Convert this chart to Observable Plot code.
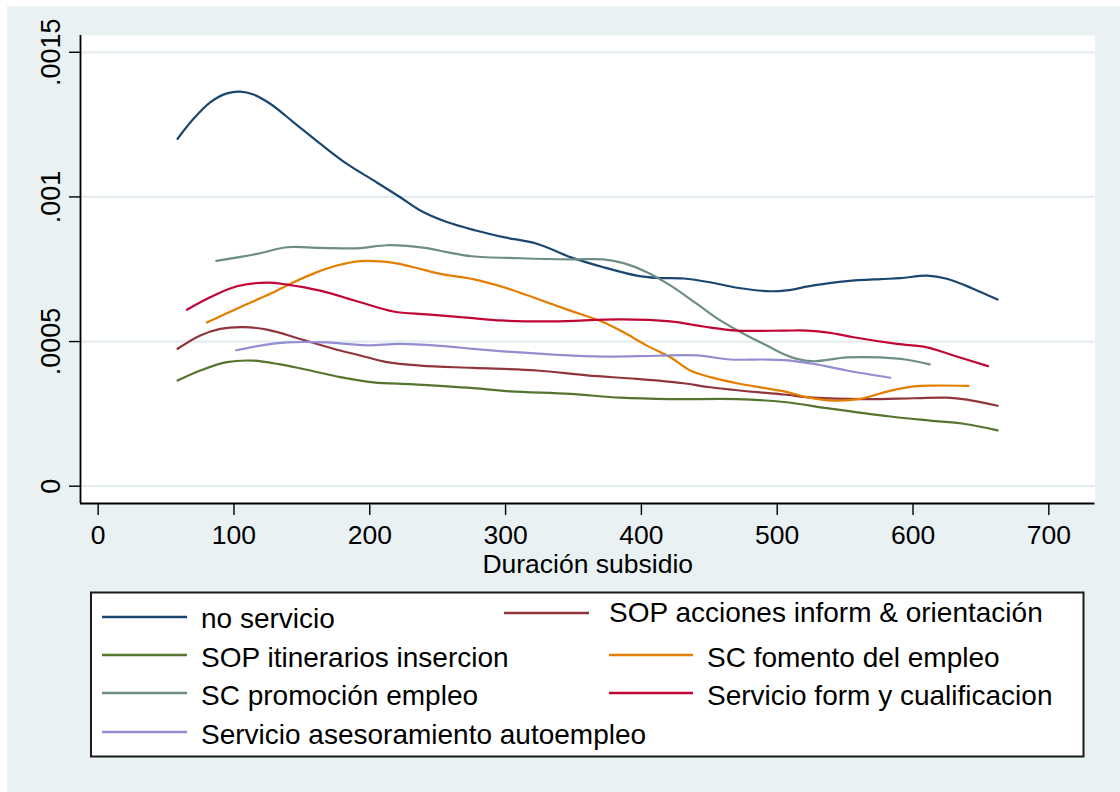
<!DOCTYPE html>
<html>
<head>
<meta charset="utf-8">
<script src="https://cdn.jsdelivr.net/npm/d3@7"></script>
<script src="https://cdn.jsdelivr.net/npm/@observablehq/plot@0.6"></script>
<style>
  html, body { margin: 0; padding: 0; background: #ffffff; }
  #root { position: relative; width: 1120px; height: 792px; background: #ffffff; overflow: hidden; font-family: "Liberation Sans", Arial, sans-serif; }
  #bg { position: absolute; left: 7px; top: 6px; right: 0; bottom: 0; background: #e9f1f3; }
  #plot, #legend { position: absolute; left: 0; top: 0; }
</style>
</head>
<body>
<div id="root">
  <div id="bg"></div>
  <div id="plot"></div>
  <div id="legend"></div>
</div>
<script>
// ---- data ----
const seriesNames = [
  "no servicio",
  "SOP acciones inform & orientación",
  "SOP itinerarios insercion",
  "SC fomento del empleo",
  "SC promoción empleo",
  "Servicio form y cualificacion",
  "Servicio asesoramiento autoempleo"
];
const seriesColors = ["#1a476f", "#90353b", "#55752f", "#e37e00", "#6e8e84", "#c10534", "#938dd2"];

const xTicks = [0, 100, 200, 300, 400, 500, 600, 700];
const yTicks = [0, 0.0005, 0.001, 0.0015];
const xDomain = [-13, 734];
const yDomain = [-0.0000598, 0.001558];
const xTitle = "Duración subsidio";

const noServicio = [[58.5,0.001201],[70.2,0.001270],[82.5,0.001327],[94.8,0.001358],[104.6,0.001364],[114.4,0.001354],[126.7,0.001322],[143.9,0.001258],[163.5,0.001184],[183.2,0.001114],[202.8,0.001057],[222.4,0.000999],[237.2,0.000953],[256.8,0.000913],[278,0.000884],[298.5,0.000861],[323.1,0.000838],[347.6,0.000792],[372.1,0.000757],[396.7,0.000728],[411.4,0.000720],[431,0.000718],[450.6,0.000705],[470.4,0.000686],[494.9,0.000674],[507,0.000677],[526.7,0.000694],[551.3,0.000709],[575.9,0.000716],[590.6,0.000719],[610.2,0.000728],[625,0.000717],[644.6,0.000682],[662.3,0.000645]];
const sopAcciones = [[58.5,0.000475],[75.2,0.000521],[89.9,0.000544],[107.1,0.000550],[124.3,0.000541],[148.8,0.000509],[173.3,0.000475],[193,0.000452],[212.6,0.000429],[237.2,0.000417],[276,0.000409],[323.1,0.000400],[359.9,0.000383],[396.7,0.000371],[431,0.000356],[450.7,0.000342],[485.1,0.000325],[505,0.000317],[526.7,0.000306],[563.6,0.000301],[600.4,0.000304],[625,0.000306],[639.7,0.000299],[662.3,0.000278]];
const sopItinerarios = [[58.5,0.000365],[75.2,0.000400],[94.8,0.000429],[114.4,0.000434],[134,0.000421],[156.2,0.000400],[178.3,0.000377],[202.8,0.000359],[232.2,0.000352],[276,0.000339],[303.4,0.000328],[347.6,0.000319],[384.4,0.000306],[421.3,0.000301],[470.4,0.000301],[505,0.000291],[539,0.000268],[583.2,0.000241],[612.6,0.000227],[637.2,0.000216],[662.3,0.000193]];
const scFomento = [[80,0.000566],[104.6,0.000619],[126.7,0.000665],[143.9,0.000705],[161.1,0.000740],[175.8,0.000763],[193,0.000778],[217.5,0.000772],[232.2,0.000757],[251.9,0.000734],[276,0.000716],[298.5,0.000688],[323.1,0.000648],[347.6,0.000607],[372.1,0.000567],[386.9,0.000532],[404.1,0.000486],[421.3,0.000446],[436,0.000400],[450.7,0.000377],[470.4,0.000356],[490,0.000340],[505,0.000328],[521.9,0.000308],[541.5,0.000296],[561.2,0.000302],[580.8,0.000327],[600.4,0.000345],[615.1,0.000348],[640.9,0.000347]];
const scPromocion = [[87,0.000779],[116.9,0.000803],[139,0.000826],[163.5,0.000824],[193,0.000823],[212.6,0.000833],[242.1,0.000823],[256.8,0.000809],[275,0.000795],[310.8,0.000788],[347.6,0.000784],[372.1,0.000784],[386.9,0.000771],[404.1,0.000740],[421.3,0.000694],[440.9,0.000630],[458.1,0.000573],[475.2,0.000527],[494.9,0.000480],[505,0.000456],[514.5,0.000440],[526.7,0.000432],[551.3,0.000445],[575.9,0.000445],[595.5,0.000437],[612.2,0.000421]];
const servicioForm = [[65.4,0.000610],[82.5,0.000653],[102.2,0.000691],[124.3,0.000704],[139,0.000697],[163.5,0.000676],[193,0.000636],[217.5,0.000604],[242.1,0.000594],[276,0.000581],[296.1,0.000573],[335.3,0.000570],[384.4,0.000577],[421.3,0.000570],[445.8,0.000552],[470.4,0.000538],[505,0.000538],[521.9,0.000538],[539,0.000530],[556.2,0.000515],[588.2,0.000492],[610.2,0.000480],[629.8,0.000452],[655.2,0.000415]];
const servicioAsesoramiento = [[101.7,0.000470],[119.4,0.000486],[139,0.000497],[168.5,0.000497],[197.9,0.000487],[222.4,0.000492],[251.9,0.000485],[276,0.000475],[298.5,0.000466],[335.3,0.000455],[372.1,0.000448],[411.4,0.000451],[440.9,0.000452],[465.4,0.000438],[490,0.000438],[505,0.000436],[526.7,0.000423],[551.3,0.000400],[583.2,0.000375]];

const seriesData = [noServicio, sopAcciones, sopItinerarios, scFomento, scPromocion, servicioForm, servicioAsesoramiento];

// ---- build rows ----
const rows = seriesData.flatMap((arr, i) => arr.map(([x, y]) => ({x, y, s: seriesNames[i]})));
const fmtY = d => d === 0 ? "0" : String(d).replace(/^0/, "");

const chart = Plot.plot({
  width: 1120,
  height: 580,
  marginLeft: 80,
  marginRight: 25.5,
  marginTop: 35,
  marginBottom: 77,
  x: {domain: xDomain},
  y: {domain: yDomain},
  color: {domain: seriesNames, range: seriesColors},
  style: {background: "transparent", color: "#000", fontFamily: "'Liberation Sans', Arial, sans-serif", overflow: "visible"},
  marks: [
    Plot.frame({fill: "#ffffff", stroke: null}),
    Plot.gridY(yTicks, {stroke: "#e4ecef", strokeOpacity: 1, strokeWidth: 2.2}),
    Plot.axisX({ticks: xTicks, tickSize: 12, tickPadding: 10, fontSize: 26.5, label: null, tickFormat: d => String(d), strokeWidth: 1.4}),
    Plot.axisY({ticks: yTicks, tickSize: 11, tickPadding: 10, tickRotate: -90, fontSize: 27, label: null, tickFormat: fmtY, strokeWidth: 1.4}),
    Plot.ruleX([xDomain[0]], {stroke: "#000", strokeWidth: 1.8}),
    Plot.ruleY([yDomain[0]], {stroke: "#000", strokeWidth: 1.8}),
    Plot.text([xTitle], {frameAnchor: "bottom", lineAnchor: "middle", dy: 61, fontSize: 26.5, fill: "#000"}),
    Plot.line(rows, {x: "x", y: "y", z: "s", stroke: "s", strokeWidth: 2.2, curve: "catmull-rom"})
  ]
});
document.getElementById("plot").appendChild(chart);

// ---- legend (layout only) ----
const legendLayout = [
  {lx1: 102, lx2: 187, ly: 617, tx: 201, ty: 628},
  {lx1: 504, lx2: 589, ly: 613, tx: 609, ty: 621.5},
  {lx1: 102, lx2: 187, ly: 655, tx: 201, ty: 667},
  {lx1: 609, lx2: 693, ly: 655, tx: 707, ty: 667},
  {lx1: 102, lx2: 187, ly: 693, tx: 201, ty: 705},
  {lx1: 609, lx2: 693, ly: 693, tx: 707, ty: 705},
  {lx1: 102, lx2: 187, ly: 732, tx: 201, ty: 743.5}
];
const lsvg = d3.create("svg").attr("width", 1120).attr("height", 792)
  .style("font-family", "'Liberation Sans', Arial, sans-serif");
lsvg.append("rect").attr("x", 91).attr("y", 592.5).attr("width", 992.5).attr("height", 164)
  .attr("fill", "#ffffff").attr("stroke", "#1a1a1a").attr("stroke-width", 2);
seriesNames.forEach((name, i) => {
  const p = legendLayout[i];
  lsvg.append("line").attr("x1", p.lx1).attr("x2", p.lx2).attr("y1", p.ly).attr("y2", p.ly)
    .attr("stroke", seriesColors[i]).attr("stroke-width", 2.4);
  lsvg.append("text").attr("x", p.tx).attr("y", p.ty).attr("font-size", 28).attr("fill", "#000").text(name);
});
document.getElementById("legend").appendChild(lsvg.node());
</script>
</body>
</html>
